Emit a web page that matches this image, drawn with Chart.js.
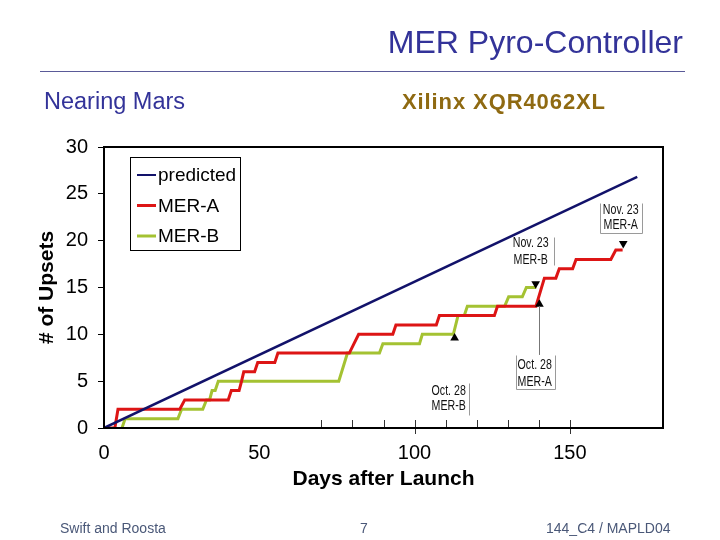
<!DOCTYPE html>
<html>
<head>
<meta charset="utf-8">
<script src="https://cdn.jsdelivr.net/npm/chart.js@4.4.1/dist/chart.umd.min.js"></script>
<style>
  body { margin: 0; width: 720px; height: 540px; background: #fff; position: relative; overflow: hidden;
         font-family: "Liberation Sans", Arial, sans-serif; }
  #chart { position: absolute; left: 0; top: 0; }
  .txt { position: absolute; white-space: nowrap; }
  #title { right: 37px; top: 26px; font-size: 32px; line-height: 32px; color: #333399; }
  #rule { position: absolute; left: 40px; top: 71px; width: 645px; height: 1px; background: #5a5a98; }
  #sub1 { left: 44px; top: 90px; font-size: 23.5px; line-height: 23.5px; color: #333399; }
  #sub2 { left: 402px; top: 91px; font-size: 22px; line-height: 22px; color: #8f6a12; font-weight: bold; letter-spacing: 0.9px; }
  .foot { top: 521px; font-size: 14px; line-height: 14px; color: #4a5878; }
</style>
</head>
<body>
<canvas id="chart" width="720" height="540"></canvas>
<div class="txt" id="title">MER Pyro-Controller</div>
<div id="rule"></div>
<div class="txt" id="sub1">Nearing Mars</div>
<div class="txt" id="sub2">Xilinx XQR4062XL</div>
<div class="txt foot" style="left:60px">Swift and Roosta</div>
<div class="txt foot" style="left:360px">7</div>
<div class="txt foot" style="left:546px">144_C4 / MAPLD04</div>
<script>
// axis ranges and ticks
const xMin = 0, xMax = 180;
const yMin = 0, yMax = 30;
const xLabelTicks = [0, 50, 100, 150];
const xInnerTicks = [70, 80, 90, 100, 110, 120, 130, 140, 150];

// series names
const seriesNames = ['predicted', 'MER-A', 'MER-B'];

// [day, upsets]
const predicted = [[0, 0], [171.7, 26.8]];
const merA = [
  [0, 0], [3.5, 0], [4.5, 2], [24.4, 2], [26, 3], [40, 3], [41, 4], [43.5, 4], [44.3, 5], [45, 6],
  [48.5, 6], [49.5, 7], [55, 7], [56, 8], [79, 8], [80.5, 9], [82, 10], [93, 10], [94, 11],
  [107, 11], [108, 12], [125.7, 12], [126.7, 13], [139.1, 13], [141.8, 16], [145.5, 16],
  [146.6, 17], [150.9, 17], [152, 18], [163.2, 18], [164.8, 19], [167, 19]
];
const merB = [
  [5.8, 0], [6.8, 1], [23.8, 1], [25, 2], [31.8, 2], [33, 3], [34, 3], [34.8, 4], [35.8, 4],
  [36.8, 5], [75.6, 5], [78.4, 8], [88.7, 8], [89.8, 9], [101.6, 9], [102.5, 10], [112.5, 10],
  [114, 12], [116, 12], [117, 13], [129, 13], [130.3, 14], [134.7, 14], [136, 15], [139.2, 15]
];

// event markers
const upMarks = [[112.9, 9.6], [140.2, 13.2]];
const downMarks = [[139, 15.4], [167.2, 19.7]];

// date notes: text lines, centre day, line values, box and which box sides to draw
const notes = [
  { lines: ['Nov. 23', 'MER-A'], x: 166.4, ys: [23.3, 21.7], box: [159.6, 173.2, 24.0, 20.8], sides: 'lrb' },
  { lines: ['Nov. 23', 'MER-B'], x: 137.4, ys: [19.7, 17.9], box: [132, 144.8, 20.4, 17.4], sides: 'r' },
  { lines: ['Oct. 28', 'MER-A'], x: 138.7, ys: [6.7, 4.9], box: [132.6, 145.3, 7.8, 4.2], sides: 'lrb', leader: [140.1, 13.0, 7.8] },
  { lines: ['Oct. 28', 'MER-B'], x: 111, ys: [3.9, 2.3], box: [104, 117.6, 4.8, 1.4], sides: 'r' }
];

const colors = ['#12126a', '#dd1515', '#a4c232'];
const toPts = a => a.map(p => ({ x: p[0], y: p[1] }));

const framePlugin = {
  id: 'frame',
  afterDatasetsDraw(chart) {
    const { ctx, chartArea: a, scales: { x, y } } = chart;
    ctx.save();
    // inner ticks on the day axis
    ctx.strokeStyle = '#333';
    ctx.lineWidth = 1;
    xInnerTicks.forEach(d => {
      const px = Math.round(x.getPixelForValue(d)) + 0.5;
      const long = xLabelTicks.includes(d);
      ctx.beginPath();
      ctx.moveTo(px, a.bottom - 8);
      ctx.lineTo(px, a.bottom + (long ? 6 : 0));
      ctx.stroke();
    });
    // notes
    notes.forEach(n => {
      ctx.strokeStyle = '#9a9a9a';
      ctx.lineWidth = 1;
      const bx0 = Math.round(x.getPixelForValue(n.box[0])) + 0.5;
      const bx1 = Math.round(x.getPixelForValue(n.box[1])) + 0.5;
      const by0 = Math.round(y.getPixelForValue(n.box[2])) + 0.5;
      const by1 = Math.round(y.getPixelForValue(n.box[3])) + 0.5;
      ctx.beginPath();
      if (n.sides.includes('l')) { ctx.moveTo(bx0, by0); ctx.lineTo(bx0, by1); }
      if (n.sides.includes('r')) { ctx.moveTo(bx1, by0); ctx.lineTo(bx1, by1); }
      if (n.sides.includes('b')) { ctx.moveTo(bx0, by1); ctx.lineTo(bx1, by1); }
      ctx.stroke();
      if (n.leader) {
        const lx = Math.round(x.getPixelForValue(n.leader[0])) + 0.5;
        ctx.strokeStyle = '#777';
        ctx.beginPath();
        ctx.moveTo(lx, y.getPixelForValue(n.leader[1]));
        ctx.lineTo(lx, y.getPixelForValue(n.leader[2]));
        ctx.stroke();
      }
      ctx.fillStyle = '#111';
      ctx.font = '14px "Liberation Sans", Arial, sans-serif';
      ctx.textAlign = 'center';
      ctx.textBaseline = 'middle';
      n.lines.forEach((t, i) => {
        ctx.save();
        ctx.translate(x.getPixelForValue(n.x), y.getPixelForValue(n.ys[i]));
        ctx.scale(0.76, 1);
        ctx.fillText(t, 0, 0);
        ctx.restore();
      });
    });
    // legend box
    const lx = a.left + 26, ly = a.top + 10;
    ctx.fillStyle = '#fff';
    ctx.fillRect(lx, ly, 110, 93);
    ctx.strokeStyle = '#000';
    ctx.lineWidth = 1;
    ctx.strokeRect(lx + 0.5, ly + 0.5, 110, 93);
    ctx.font = '19px "Liberation Sans", Arial, sans-serif';
    ctx.textAlign = 'left';
    ctx.textBaseline = 'middle';
    seriesNames.forEach((name, i) => {
      const yy = ly + 18 + i * 30.5;
      ctx.strokeStyle = colors[i];
      ctx.lineWidth = i === 0 ? 2 : 3;
      ctx.beginPath();
      ctx.moveTo(lx + 7, yy);
      ctx.lineTo(lx + 26, yy);
      ctx.stroke();
      ctx.fillStyle = '#000';
      ctx.fillText(name, lx + 28, yy + 1);
    });
    // plot frame
    ctx.strokeStyle = '#000';
    ctx.lineWidth = 2;
    ctx.strokeRect(a.left, a.top, a.right - a.left, a.bottom - a.top);
    ctx.restore();
  }
};

const ctx = document.getElementById('chart').getContext('2d');
new Chart(ctx, {
  type: 'line',
  data: {
    datasets: [
      { label: 'up', data: toPts(upMarks), showLine: false, pointStyle: 'triangle', pointRadius: 5,
        pointBackgroundColor: '#000', pointBorderColor: '#000', pointBorderWidth: 0 },
      { label: 'down', data: toPts(downMarks), showLine: false, pointStyle: 'triangle', pointRotation: 180,
        pointRadius: 5, pointBackgroundColor: '#000', pointBorderColor: '#000', pointBorderWidth: 0 },
      { label: seriesNames[0], data: toPts(predicted), borderColor: colors[0], borderWidth: 2.5, pointRadius: 0, tension: 0 },
      { label: seriesNames[1], data: toPts(merA), borderColor: colors[1], borderWidth: 3, pointRadius: 0, tension: 0 },
      { label: seriesNames[2], data: toPts(merB), borderColor: colors[2], borderWidth: 3, pointRadius: 0, tension: 0 }
    ]
  },
  options: {
    responsive: false,
    animation: false,
    devicePixelRatio: 1,
    layout: { padding: { left: 20, right: 57, top: 147, bottom: 32 } },
    plugins: { legend: { display: false }, tooltip: { enabled: false } },
    scales: {
      x: {
        type: 'linear', min: xMin, max: xMax,
        afterFit: s => { s.height = 80; },
        grid: { display: false, drawTicks: false },
        border: { display: false },
        ticks: {
          stepSize: 50, padding: 13, color: '#000', maxRotation: 0,
          font: { family: '"Liberation Sans", Arial', size: 20 },
          callback: v => xLabelTicks.includes(v) ? String(v) : ''
        },
        title: { display: true, text: 'Days after Launch', color: '#000',
                 font: { family: '"Liberation Sans", Arial', size: 21, weight: 'bold' },
                 padding: { top: 0, bottom: 16 } }
      },
      y: {
        min: yMin, max: yMax,
        afterFit: s => { s.width = 84; },
        grid: { display: true, drawOnChartArea: false, drawTicks: true, tickLength: 6, color: '#000' },
        border: { display: false },
        ticks: { stepSize: 5, padding: 10, color: '#000',
                 font: { family: '"Liberation Sans", Arial', size: 20 } },
        title: { display: true, text: '# of Upsets', color: '#000',
                 font: { family: '"Liberation Sans", Arial', size: 21, weight: 'bold' },
                 padding: { top: 15, bottom: 0 } }
      }
    }
  },
  plugins: [framePlugin]
});
</script>
</body>
</html>
